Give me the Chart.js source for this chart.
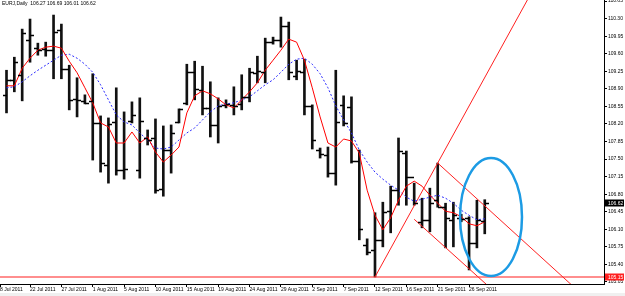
<!DOCTYPE html>
<html>
<head>
<meta charset="utf-8">
<script src="https://cdn.jsdelivr.net/npm/chart.js@4.4.0/dist/chart.umd.min.js"></script>
<style>
  body { margin: 0; background: #f0f0f0; }
  #chart { display: block; background: #fff; }
</style>
</head>
<body>
<canvas id="chart" width="625" height="293"></canvas>
<script>
// EURJPY daily bars, first bar is 3 bars before 22 Jul 2011 (index 0)
const highs = [109.27,109.53,110.09,110.29,109.81,109.83,110.37,110.19,109.37,109.12,108.78,109.20,108.36,108.32,108.92,108.44,108.64,108.72,108.08,108.30,108.16,108.18,108.50,109.39,109.45,109.35,109.04,108.72,108.68,108.94,109.18,109.31,109.55,109.91,109.93,110.33,110.23,109.47,109.49,108.58,107.72,107.74,109.27,108.76,108.74,107.68,105.91,106.43,106.64,106.96,107.92,107.66,107.02,106.72,106.92,107.42,106.62,106.64,106.40,106.35,106.68,106.69];
const lows  = [108.42,108.84,108.66,109.43,109.57,109.55,109.10,109.10,108.48,108.34,108.60,107.48,107.24,107.02,107.18,107.10,108.22,107.12,107.78,106.82,106.76,107.22,108.22,108.58,108.68,108.38,107.94,107.82,108.52,108.38,108.48,108.64,109.02,109.02,109.79,109.73,109.08,109.08,108.38,107.70,107.52,107.14,106.98,108.16,107.42,105.89,105.59,105.15,105.75,106.03,106.58,106.58,106.58,106.13,106.05,106.54,105.73,105.75,106.25,105.29,105.73,106.01];
const opens = [108.78,109.08,109.18,109.87,109.71,109.69,109.67,110.07,109.29,108.70,108.66,108.66,108.22,107.38,108.24,107.28,108.26,107.28,107.92,107.92,106.90,107.68,108.24,108.62,109.23,108.88,108.52,108.18,108.58,108.58,108.60,108.74,109.22,109.23,109.83,109.87,110.15,109.16,109.23,108.56,107.68,107.58,107.22,108.58,108.54,107.46,105.79,105.69,105.89,106.46,106.88,107.62,107.14,106.25,106.29,106.68,106.54,106.29,106.33,106.33,105.83,106.27];
const closes = [109.08,109.43,110.01,109.97,109.67,109.68,110.03,109.29,108.68,108.68,108.62,108.22,107.42,108.20,107.28,107.30,108.38,108.26,107.88,106.88,107.68,108.02,108.50,109.23,108.90,108.52,108.18,108.56,108.60,108.56,108.74,109.23,109.25,109.83,109.87,110.15,109.23,109.25,108.56,107.88,107.60,107.22,108.24,108.22,107.46,106.11,105.65,105.89,106.45,106.88,107.66,107.14,106.62,106.29,106.62,106.54,106.33,106.38,106.31,105.83,106.29,106.62];

// moving averages
const fastMA = [108.96,108.96,109.31,109.51,109.67,109.73,109.75,109.71,109.45,109.22,108.92,108.62,108.22,108.14,107.82,107.82,108.04,107.82,107.94,107.64,107.44,107.58,107.74,108.42,108.76,108.86,108.80,108.70,108.58,108.52,108.68,108.84,109.02,109.27,109.47,109.67,109.89,109.83,109.47,108.92,108.34,107.82,107.74,107.90,107.86,107.62,106.88,106.38,106.09,106.33,106.68,106.96,107.06,106.96,106.78,106.62,106.46,106.43,106.35,106.21,106.17,106.25];
const slowMA = [108.92,108.94,109.04,109.16,109.27,109.37,109.47,109.57,109.59,109.51,109.39,109.23,108.98,108.68,108.38,108.24,108.18,108.02,107.88,107.72,107.70,107.74,107.88,108.02,108.12,108.28,108.44,108.56,108.60,108.62,108.68,108.74,108.86,108.98,109.08,109.23,109.39,109.49,109.51,109.39,109.20,108.92,108.56,108.28,108.02,107.68,107.44,107.24,107.10,106.98,106.88,106.74,106.66,106.70,106.74,106.78,106.72,106.62,106.48,106.38,106.29,106.31];

const firstIdx = -3;
const barIdx = highs.map((_, k) => k + firstIdx);

const xTickIdx = [-3.83, 0, 4, 8, 12, 16, 20, 24, 28, 32, 36, 40, 44, 48, 52, 56];
const xTickLabels = ['8 Jul 2011','22 Jul 2011','27 Jul 2011','1 Aug 2011','5 Aug 2011','10 Aug 2011','15 Aug 2011','19 Aug 2011','24 Aug 2011','29 Aug 2011','2 Sep 2011','7 Sep 2011','12 Sep 2011','16 Sep 2011','21 Sep 2011','26 Sep 2011'];
const yTicks = [105.05,105.40,105.75,106.10,106.45,106.80,107.15,107.50,107.85,108.20,108.55,108.90,109.25,109.60,109.95,110.30,110.65];

// drawn objects (bar index, price)
const supportLevel = 105.15;
const riseLine = [[44, 105.15], [64.6, 111.0]];
const upperChannel = [[52, 107.42], [70, 104.86]];
const lowerChannel = [[49, 106.30], [60, 104.75]];
const ellipse = { x: 58.8, y: 106.345, rx: 3.95, ry: 1.176 };
const header = 'EURJ,Daily  106.27 106.69 106.01 106.62';

const X_MIN = -3.83, X_MAX = 73.21, Y_MIN = 105.01, Y_MAX = 110.67;

function pts(arr) { return arr.map(p => ({ x: p[0], y: p[1] })); }

const chartPlugin = {
  id: 'mt4',
  afterDatasetsDraw(chart) {
    const { ctx, scales: { x, y }, chartArea } = chart;
    ctx.save();
    ctx.beginPath();
    ctx.rect(chartArea.left, chartArea.top, chartArea.right - chartArea.left, chartArea.bottom - chartArea.top);
    ctx.clip();
    // open / close ticks
    ctx.strokeStyle = '#000';
    ctx.lineWidth = 1.5;
    barIdx.forEach((i, k) => {
      const px = Math.round(x.getPixelForValue(i));
      const yo = Math.round(y.getPixelForValue(opens[k])) + 0.5;
      const yc = Math.round(y.getPixelForValue(closes[k])) + 0.5;
      ctx.beginPath();
      ctx.moveTo(px - 4, yo); ctx.lineTo(px, yo);
      ctx.moveTo(px, yc); ctx.lineTo(px + 4, yc);
      ctx.stroke();
    });
    // ellipse
    const cx = x.getPixelForValue(ellipse.x);
    const cy = y.getPixelForValue(ellipse.y);
    const rx = Math.abs(x.getPixelForValue(ellipse.x + ellipse.rx) - cx);
    const ry = Math.abs(y.getPixelForValue(ellipse.y + ellipse.ry) - cy);
    ctx.strokeStyle = '#1c9be4';
    ctx.lineWidth = 2.5;
    ctx.beginPath();
    ctx.ellipse(cx, cy, rx, ry, 0, 0, Math.PI * 2);
    ctx.stroke();
    ctx.restore();
  },
  afterDraw(chart) {
    const { ctx, scales: { y }, chartArea } = chart;
    ctx.save();
    ctx.font = '5px "Liberation Sans", Arial, sans-serif';
    ctx.textBaseline = 'middle';
    ctx.fillStyle = '#000';
    ctx.fillText(header, 2, 4);
    const tag = (val, bg) => {
      const py = Math.round(y.getPixelForValue(val));
      ctx.fillStyle = bg;
      ctx.fillRect(chartArea.right + 1, py - 3.5, 19, 7);
      ctx.fillStyle = '#fff';
      ctx.fillText(val.toFixed(2), chartArea.right + 4, py + 0.5);
    };
    tag(closes[closes.length - 1], '#000');
    tag(supportLevel, '#ff2020');
    ctx.restore();
  }
};

new Chart(document.getElementById('chart'), {
  type: 'bar',
  data: {
    datasets: [
      {
        type: 'line', label: 'fast', order: 1,
        data: barIdx.map((i, k) => ({ x: i, y: fastMA[k] })),
        borderColor: '#ff0000', borderWidth: 1, pointRadius: 0, tension: 0
      },
      {
        type: 'line', label: 'slow', order: 2,
        data: barIdx.map((i, k) => ({ x: i, y: slowMA[k] })),
        borderColor: '#2a2aff', borderWidth: 1, borderDash: [2, 2], pointRadius: 0, tension: 0
      },
      {
        type: 'line', label: 'support', order: 3,
        data: [{ x: X_MIN, y: supportLevel }, { x: X_MAX, y: supportLevel }],
        borderColor: 'rgba(255,40,40,0.7)', borderWidth: 1.5, pointRadius: 0
      },
      {
        type: 'line', label: 'rise', order: 3, data: pts(riseLine),
        borderColor: '#ff2020', borderWidth: 1, pointRadius: 0
      },
      {
        type: 'line', label: 'upper', order: 3, data: pts(upperChannel),
        borderColor: '#ff2020', borderWidth: 1, pointRadius: 0
      },
      {
        type: 'line', label: 'lower', order: 3, data: pts(lowerChannel),
        borderColor: '#ff2020', borderWidth: 1, pointRadius: 0
      },
      {
        type: 'bar', label: 'range', order: 10,
        data: barIdx.map((i, k) => ({ x: i, y: [lows[k], highs[k]] })),
        backgroundColor: '#111', barThickness: 2, grouped: false
      }
    ]
  },
  options: {
    responsive: false,
    animation: false,
    devicePixelRatio: 1,
    layout: { padding: 0, autoPadding: false },
    plugins: { legend: { display: false }, tooltip: { enabled: false } },
    scales: {
      x: {
        type: 'linear', position: 'bottom', min: X_MIN, max: X_MAX, offset: false,
        afterBuildTicks: axis => { axis.ticks = xTickIdx.map(v => ({ value: v })); },
        afterFit: axis => { axis.height = 9; axis.paddingLeft = 0; axis.paddingRight = 0; },
        ticks: {
          autoSkip: false, maxRotation: 0, align: 'start', padding: 0,
          color: '#000', font: { family: '"Liberation Sans", Arial, sans-serif', size: 5 },
          callback: (v, idx) => xTickLabels[idx]
        },
        grid: { drawOnChartArea: false, tickLength: 3, tickColor: '#000', offset: false },
        border: { display: true, color: '#000', width: 1 }
      },
      y: {
        type: 'linear', position: 'right', min: Y_MIN, max: Y_MAX,
        afterBuildTicks: axis => { axis.ticks = yTicks.map(v => ({ value: v })); },
        afterFit: axis => { axis.width = 21; axis.paddingTop = 0; axis.paddingBottom = 0; },
        ticks: {
          padding: 1, color: '#000',
          font: { family: '"Liberation Sans", Arial, sans-serif', size: 5 },
          callback: v => v.toFixed(2)
        },
        grid: { drawOnChartArea: false, tickLength: 3, tickColor: '#000' },
        border: { display: true, color: '#000', width: 1 }
      }
    }
  },
  plugins: [chartPlugin]
});
</script>
</body>
</html>
